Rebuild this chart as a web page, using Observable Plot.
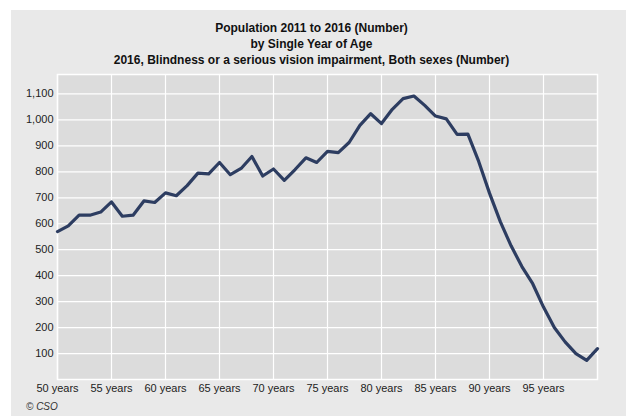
<!DOCTYPE html>
<html>
<head>
<meta charset="utf-8">
<script src="https://cdn.jsdelivr.net/npm/d3@7"></script>
<script src="https://cdn.jsdelivr.net/npm/@observablehq/plot@0.6"></script>
<style>
  html, body { margin: 0; padding: 0; background: #ffffff; }
  #wrap { position: relative; width: 626px; height: 416px; overflow: hidden; font-family: "Liberation Sans", Arial, sans-serif; }
  #panel { position: absolute; left: 11px; top: 10px; width: 615px; height: 406px; background: #e9e9e9; }
  .title { position: absolute; left: 0px; width: 623px; text-align: center; font-weight: bold; font-size: 12px; color: #111; }
  #caption { position: absolute; left: 26px; top: 401px; font-size: 10px; font-style: italic; color: #333; }
  #chart { position: absolute; left: 0; top: 0; }
</style>
</head>
<body>
<div id="wrap">
  <div id="panel"></div>
  <div class="title" style="top:21px">Population 2011 to 2016 (Number)</div>
  <div class="title" style="top:37px">by Single Year of Age</div>
  <div class="title" style="top:53px">2016, Blindness or a serious vision impairment, Both sexes (Number)</div>
  <div id="chart"></div>
  <div id="caption">© CSO</div>
</div>
<script>
const ages = [50,51,52,53,54,55,56,57,58,59,60,61,62,63,64,65,66,67,68,69,70,71,72,73,74,75,76,77,78,79,80,81,82,83,84,85,86,87,88,89,90,91,92,93,94,95,96,97,98,99,100];
const persons = [570,592,633,633,645,684,629,633,688,682,719,708,747,795,792,836,789,813,859,784,811,767,809,854,836,879,874,913,979,1024,986,1041,1082,1092,1056,1015,1004,944,945,840,718,608,515,435,369,279,200,145,100,74,119];
const xTicks = [50,55,60,65,70,75,80,85,90,95];
const yTicks = [100,200,300,400,500,600,700,800,900,1000,1100];

const data = ages.map((a, i) => ({age: a, value: persons[i]}));

const chart = Plot.plot({
  width: 626,
  height: 416,
  marginLeft: 57,
  marginRight: 29,
  marginTop: 74,
  marginBottom: 37,
  style: { background: "transparent", fontFamily: "Liberation Sans, Arial, sans-serif", fontSize: "11px", color: "#222" },
  x: { domain: [50, 100], ticks: xTicks, tickFormat: d => d + " years", tickSize: 0, tickPadding: 5, label: null },
  y: { domain: [0, 1175], ticks: yTicks, tickFormat: d3.format(","), tickSize: 0, tickPadding: 4, label: null },
  marks: [
    Plot.frame({ fill: "#dcdcdc", stroke: "none" }),
    Plot.gridX(xTicks, { stroke: "#ffffff", strokeOpacity: 1, strokeWidth: 1.2 }),
    Plot.gridY(yTicks, { stroke: "#ffffff", strokeOpacity: 1, strokeWidth: 1.2 }),
    Plot.frame({ stroke: "#ffffff", strokeWidth: 1.5 }),
    Plot.axisX({ ticks: xTicks, tickFormat: d => d + " years", tickSize: 0, tickPadding: 5, label: null, fill: "#222" }),
    Plot.axisY({ ticks: yTicks, tickFormat: d3.format(","), tickSize: 0, tickPadding: 4, label: null, fill: "#222" }),
    Plot.line(data, { x: "age", y: "value", stroke: "#2d3d61", strokeWidth: 3.2, strokeLinejoin: "round", strokeLinecap: "round" })
  ]
});
document.getElementById("chart").appendChild(chart);
</script>
</body>
</html>
